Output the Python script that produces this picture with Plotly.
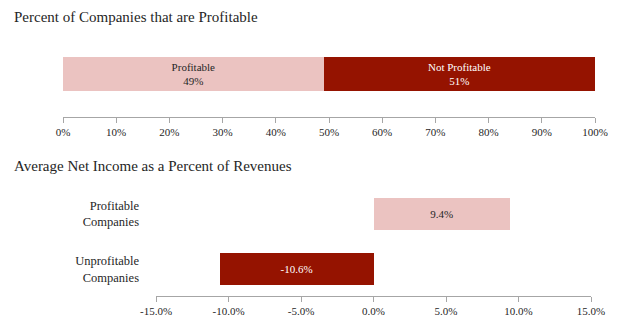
import plotly.graph_objects as go

# ---- data ----
share_labels = ["Profitable", "Not Profitable"]
share_values = [0.49, 0.51]
share_text = ["Profitable<br>49%", "Not Profitable<br>51%"]

income_categories = ["Unprofitable<br>Companies", "Profitable<br>Companies"]
income_values = [-0.106, 0.094]
income_text = ["-10.6%", "9.4%"]

top_tickvals = [0, 0.1, 0.2, 0.3, 0.4, 0.5, 0.6, 0.7, 0.8, 0.9, 1.0]
top_ticktext = ["0%", "10%", "20%", "30%", "40%", "50%", "60%", "70%", "80%", "90%", "100%"]
bot_tickvals = [-0.15, -0.10, -0.05, 0.0, 0.05, 0.10, 0.15]
bot_ticktext = ["-15.0%", "-10.0%", "-5.0%", "0.0%", "5.0%", "10.0%", "15.0%"]

title_top = "Percent of Companies that are Profitable"
title_bottom = "Average Net Income as a Percent of Revenues"

# ---- style ----
LIGHT = "#EBC3C1"
DARK = "#951300"
FONT = "Liberation Serif"
TXT = "#262626"
AXIS = "#A6A6A6"

W, H = 628, 332

fig = go.Figure()

colors_top = [LIGHT, DARK]
tcolors_top = [TXT, "white"]
for lab, v, t, c, tc in zip(share_labels, share_values, share_text, colors_top, tcolors_top):
    fig.add_trace(go.Bar(
        x=[v], y=[0.5], orientation="h", width=0.395,
        marker=dict(color=c, line=dict(width=0)),
        text=[t], textposition="inside", insidetextanchor="middle", textangle=0,
        textfont=dict(family=FONT, size=11, color=tc),
        xaxis="x", yaxis="y", name=lab, hoverinfo="skip",
    ))

fig.add_trace(go.Bar(
    x=income_values, y=[0, 1], orientation="h", width=0.58,
    marker=dict(color=[DARK, LIGHT], line=dict(width=0)),
    text=income_text, textposition="inside", insidetextanchor="middle", textangle=0,
    textfont=dict(family=FONT, size=11, color=["white", TXT]),
    xaxis="x2", yaxis="y2", hoverinfo="skip",
))

def px_x(p):
    return p / W

def px_y(p):
    return 1 - p / H

axis_common = dict(
    showgrid=False, zeroline=False, showline=True, linecolor=AXIS, linewidth=1,
    ticks="outside", ticklen=5, tickcolor=AXIS, tickwidth=1, automargin=False,
    tickfont=dict(family=FONT, size=11, color=TXT),
)

fig.update_layout(
    width=W, height=H,
    margin=dict(l=0, r=0, t=0, b=0, autoexpand=False),
    paper_bgcolor="white", plot_bgcolor="white",
    barmode="stack", showlegend=False,
    xaxis=dict(domain=[px_x(63), px_x(595)], range=[0, 1], anchor="y",
               tickvals=top_tickvals, ticktext=top_ticktext, **axis_common),
    yaxis=dict(domain=[px_y(117), px_y(31)], range=[0, 1], anchor="x", automargin=False,
               showticklabels=False, showgrid=False, zeroline=False, showline=False),
    xaxis2=dict(domain=[px_x(156), px_x(591)], range=[-0.15, 0.15], anchor="y2",
                tickvals=bot_tickvals, ticktext=bot_ticktext, **axis_common),
    yaxis2=dict(domain=[px_y(296), px_y(187)], range=[-0.49, 1.49], anchor="x2",
                tickvals=[0, 1], ticktext=income_categories, automargin=False,
                showgrid=False, zeroline=False, showline=False, ticks="",
                ticklabelstandoff=16,
                tickfont=dict(family=FONT, size=12.5, color=TXT)),
    annotations=[
        dict(text=title_top, x=px_x(12), y=px_y(17), xref="paper", yref="paper",
             xanchor="left", yanchor="middle", showarrow=False,
             font=dict(family=FONT, size=15, color=TXT)),
        dict(text=title_bottom, x=px_x(12), y=px_y(166), xref="paper", yref="paper",
             xanchor="left", yanchor="middle", showarrow=False,
             font=dict(family=FONT, size=15, color=TXT)),
    ],
)

fig.write_html("out.html")
